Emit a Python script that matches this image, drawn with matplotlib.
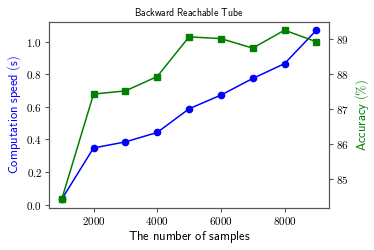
import matplotlib
matplotlib.use("Agg")
import matplotlib.pyplot as plt

plt.rcParams['mathtext.fontset'] = 'cm'

samples = [1000, 2000, 3000, 4000, 5000, 6000, 7000, 8000, 9000]
speed = [0.033, 0.348, 0.385, 0.443, 0.588, 0.672, 0.774, 0.865, 1.07]
accuracy = [84.42, 87.42, 87.51, 87.92, 89.05, 89.00, 88.73, 89.24, 88.91]

fig = plt.figure(figsize=(3.74, 2.5), dpi=100)
ax = fig.add_axes([0.131, 0.169, 0.749, 0.744])
ax2 = ax.twinx()

ax.plot(samples, speed, color='b', marker='o', markersize=4.5, linewidth=1.1)
ax2.plot(samples, accuracy, color='g', marker='s', markersize=4, linewidth=1.1)

ax.set_xticks([2000, 4000, 6000, 8000])
ax.set_xticklabels([f'${v}$' for v in [2000, 4000, 6000, 8000]])
yt = [0.0, 0.2, 0.4, 0.6, 0.8, 1.0]
ax.set_yticks(yt)
ax.set_yticklabels([f'${v:.1f}$' for v in yt])
yt2 = [85, 86, 87, 88, 89]
ax2.set_yticks(yt2)
ax2.set_yticklabels([f'${v}$' for v in yt2])

for a in (ax, ax2):
    a.tick_params(labelsize=8, length=3, width=0.8, color='#555555', pad=2)
    for s in a.spines.values():
        s.set_color('#555555')
        s.set_linewidth(0.8)

ax.set_xlabel(r'$\mathsf{The\ number\ of\ samples}$', fontsize=9, labelpad=2)
ax.set_ylabel(r'$\mathsf{Computation\ speed\ (s)}$', fontsize=9, color='b', labelpad=2)
ax2.set_ylabel(r'$\mathsf{Accuracy\ (\%)}$', fontsize=9, color='g', labelpad=3)
ax.set_title(r'$\mathsf{Backward\ Reachable\ Tube}$', fontsize=7, pad=4)

fig.savefig('out.png', dpi=100)
